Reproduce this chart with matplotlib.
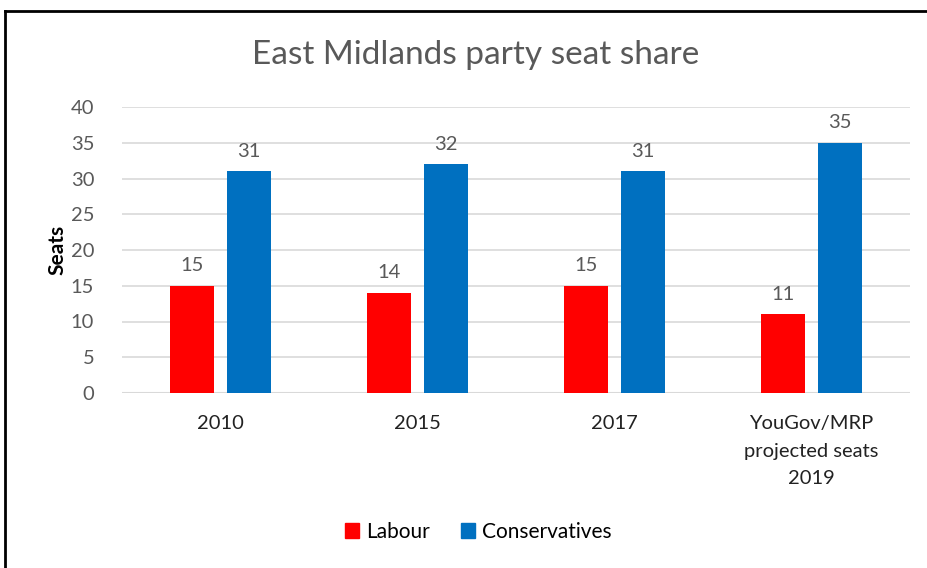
import matplotlib.pyplot as plt
import numpy as np
from matplotlib.lines import Line2D
from matplotlib.patches import Patch

categories = ["2010", "2015", "2017", "YouGov/MRP\nprojected seats\n2019"]
labour = [15, 14, 15, 11]
conservatives = [31, 32, 31, 35]
yticks = [0, 5, 10, 15, 20, 25, 30, 35, 40]

plt.rcParams['font.family'] = ['Lato', 'DejaVu Sans']

red = "#ff0000"
blue = "#0070c0"
grey = "#595959"

fig = plt.figure(figsize=(9.28, 5.68), dpi=100)
ax = fig.add_axes([122 / 928, 1 - 393 / 568, (910 - 122) / 928, (393 - 107) / 568])

x = np.arange(len(categories))
w = 0.22
off = 0.144
b1 = ax.bar(x - off, labour, w, color=red, zorder=3)
b2 = ax.bar(x + off, conservatives, w, color=blue, zorder=3)

for bars in (b1, b2):
    for b in bars:
        ax.text(b.get_x() + b.get_width() / 2, b.get_height() + 1.6, str(int(b.get_height())),
                ha="center", va="bottom", fontsize=14.5, color=grey)

ax.set_xlim(-0.5, len(categories) - 0.5)
ax.set_ylim(0, 40)
ax.set_yticks(yticks)
ax.yaxis.grid(True, color="#d9d9d9", linewidth=1.2, zorder=0)
for s in ax.spines.values():
    s.set_visible(False)
ax.axhline(0, color="#d9d9d9", linewidth=1.5, zorder=2)
ax.tick_params(axis="both", length=0)
ax.tick_params(axis="y", labelsize=14.5, labelcolor=grey, pad=20)
ax.set_xticks(x)
ax.set_xticklabels(categories, fontsize=14.5, color="#222222", linespacing=1.75)
ax.tick_params(axis="x", pad=16)
ax.set_ylabel("Seats", fontsize=15, fontweight="bold", labelpad=2)

fig.text(476 / 928, 1 - 55 / 568, "East Midlands party seat share", ha="center", va="center",
         fontsize=24, color=grey)

handles = [Patch(color=red, label="Labour"), Patch(color=blue, label="Conservatives")]
fig.legend(handles=handles, loc="center", bbox_to_anchor=(478 / 928, 1 - 532 / 568), ncol=2,
           frameon=False, fontsize=15, handlelength=0.7, handleheight=0.7, handletextpad=0.3,
           columnspacing=1.5)

# outer chart border (left and top edges visible in the screenshot)
fig.add_artist(Line2D([5 / 928, 5 / 928], [0, 1 - 11 / 568], color="black", linewidth=2,
                      transform=fig.transFigure))
fig.add_artist(Line2D([5 / 928, 1], [1 - 11 / 568, 1 - 11 / 568], color="black", linewidth=2,
                      transform=fig.transFigure))

fig.savefig("out.png", dpi=100)
